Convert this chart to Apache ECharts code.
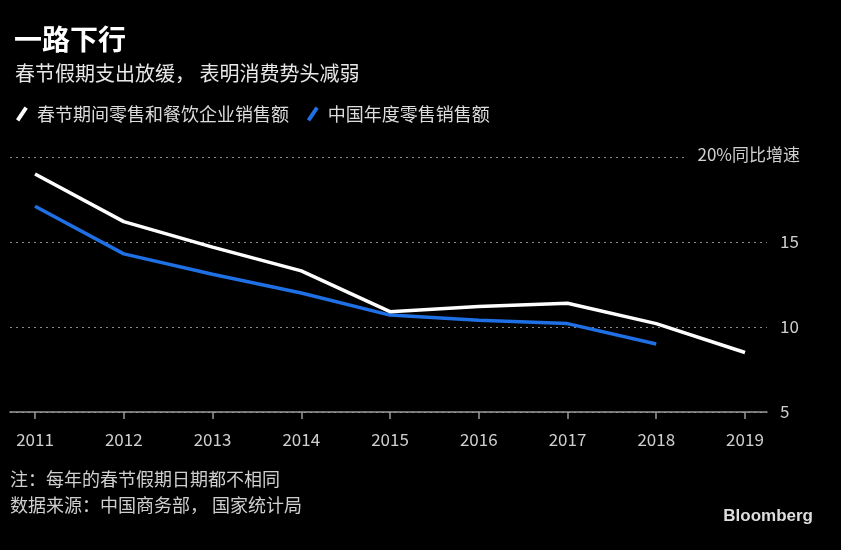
<!DOCTYPE html>
<html><head><meta charset="utf-8">
<script src="https://cdn.jsdelivr.net/npm/echarts@6/dist/echarts.min.js"></script>
<style>html,body{margin:0;padding:0;background:#000;}#c{width:841px;height:550px;}</style>
</head><body><div id="c"></div>
<script>
const years = [2011, 2012, 2013, 2014, 2015, 2016, 2017, 2018, 2019];
const springFestival = [19.0, 16.2, 14.7, 13.3, 10.9, 11.2, 11.4, 10.2, 8.5];
const annualRetail = [17.1, 14.3, 13.1, 12.0, 10.7, 10.4, 10.2, 9.0, null];
const yTicks = [5, 10, 15, 20];
const seriesNames = ['春节期间零售和餐饮企业销售额', '中国年度零售销售额'];

const font = '"Noto Sans CJK SC", "Noto Sans", sans-serif';
const chart = echarts.init(document.getElementById('c'));
const slash = 'path://M0,12 L8,0 L11,2 L3,14 Z';
const pairs = arr => years.map((y, i) => [y, arr[i]]).filter(p => p[1] !== null);

chart.setOption({
  backgroundColor: '#000',
  animation: false,
  textStyle: { fontFamily: font },
  title: [
    { text: '一路下行', left: 9, top: 20, textStyle: { color: '#fff', fontSize: 28, fontWeight: 'bold', fontFamily: font } },
    { text: '春节假期支出放缓， 表明消费势头减弱', left: 10, top: 58, textStyle: { color: '#e8e8e8', fontSize: 20, fontWeight: 'normal', fontFamily: font } }
  ],
  legend: {
    left: 11, top: 100, itemGap: 18, itemWidth: 12, itemHeight: 15,
    textStyle: { color: '#dcdcdc', fontSize: 18, fontFamily: font, padding: [0, 0, 0, 4] },
    data: [
      { name: seriesNames[0], icon: slash, itemStyle: { color: '#fff' } },
      { name: seriesNames[1], icon: slash, itemStyle: { color: '#1f6fe5' } }
    ]
  },
  grid: { left: 10, right: 74, top: 157, bottom: 138, containLabel: false },
  xAxis: {
    type: 'value', min: 2010.718, max: 2019.248,
    axisLine: { show: true, lineStyle: { color: '#9a9a9a', width: 1.5 } },
    axisTick: { show: true, length: 7, lineStyle: { color: '#9a9a9a', width: 1.5 }, customValues: years },
    axisLabel: { color: '#cfcfcf', fontSize: 17, margin: 19, customValues: years, formatter: v => String(v) },
    splitLine: { show: false }
  },
  yAxis: {
    type: 'value', position: 'right', min: 5, max: 20, interval: 5,
    axisLine: { show: false }, axisTick: { show: false },
    axisLabel: { color: '#cfcfcf', fontSize: 17, margin: 13, align: 'left', formatter: v => (v === 20 ? '' : String(v)) },
    splitLine: { show: true, lineStyle: { color: '#8a8a8a', type: [2, 4], width: 1 } }
  },
  series: [
    { name: seriesNames[0], type: 'line', data: pairs(springFestival), symbol: 'none', lineStyle: { color: '#fff', width: 3.5 }, itemStyle: { color: '#fff' }, z: 3 },
    { name: seriesNames[1], type: 'line', data: pairs(annualRetail), symbol: 'none', lineStyle: { color: '#1f6fe5', width: 3.5 }, itemStyle: { color: '#1f6fe5' }, z: 2 }
  ],
  graphic: [
    { type: 'rect', shape: { x: 684, y: 150, width: 92, height: 14 }, style: { fill: '#000' }, z: 10 },
    { type: 'text', right: 41, top: 146, z: 11, style: { text: '20%同比增速', fill: '#cfcfcf', font: '17px ' + font } },
    { type: 'text', left: 10, top: 470, style: { text: '注：每年的春节假期日期都不相同', fill: '#cfcfcf', font: '18px ' + font } },
    { type: 'text', left: 10, top: 496, style: { text: '数据来源：中国商务部， 国家统计局', fill: '#cfcfcf', font: '18px ' + font } },
    { type: 'text', right: 28, top: 508, style: { text: 'Bloomberg', fill: '#dedede', font: 'bold 17px "Liberation Sans", Arial, sans-serif' } }
  ]
});
</script></body></html>
